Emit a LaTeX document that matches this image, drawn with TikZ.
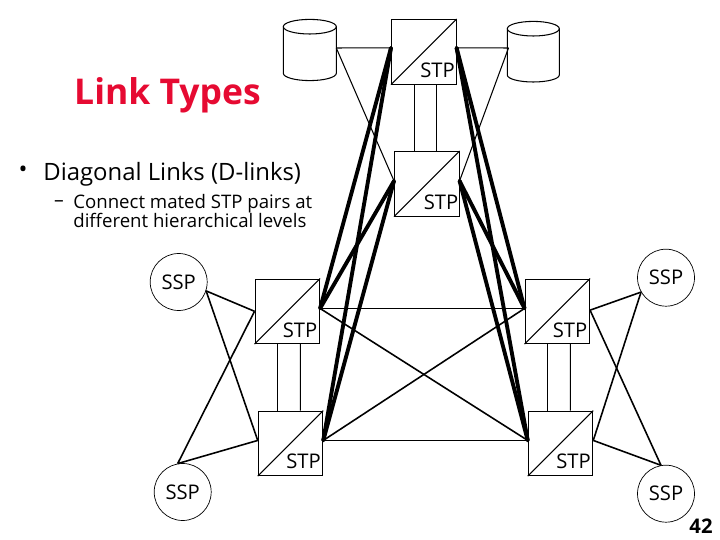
\documentclass[tikz,border=0pt]{standalone}
\usepackage{fontspec}
\setmainfont{Open Sans}
\definecolor{titlered}{RGB}{230,10,50}
\tikzset{
  stpbox/.style={draw,rectangle,minimum size=1.29cm,inner sep=0pt,line width=0.6pt},
  sspnode/.style={draw,circle,minimum size=1.14cm,inner sep=0pt,line width=0.4pt,font=\fontsize{11.5}{13}\selectfont},
  stplabel/.style={inner sep=0pt,font=\fontsize{11.5}{13}\selectfont},
  dbline/.style={line width=0.6pt},
  thinlink/.style={line width=0.6pt},
  midlink/.style={line width=0.9pt},
  dlink/.style={line width=2.2pt,line cap=round}
}
\begin{document}
\begin{tikzpicture}[x=0.02cm,y=-0.02cm]
  \useasboundingbox (0,0) rectangle (720,540);
  % title and text
  \node[inner sep=0pt,text=titlered,font=\bfseries\fontsize{20.2}{22}\selectfont] (title) at (167.5,95.5) {Link Types};
  \node[inner sep=0pt,font=\fontsize{13.5}{16}\selectfont] (bullet) at (23,172) {•};
  \node[inner sep=0pt,anchor=west,font=\fontsize{13.6}{16}\selectfont] (diag) at (43,174) {Diagonal Links (D-links)};
  \node[inner sep=0pt,font=\fontsize{11}{13}\selectfont] (dash) at (59,203.5) {–};
  \node[inner sep=0pt,anchor=west,align=left,font=\fontsize{10.6}{10.8}\selectfont] (connect) at (73,211) {Connect mated STP pairs at\\different hierarchical levels};
  \node[inner sep=0pt,font=\bfseries\fontsize{11.5}{13}\selectfont] (pagenum) at (701,526) {42};
  % signal transfer points
  \node[stpbox] (stpa) at (423.8,51.8) {};
  \node[stpbox] (stpb) at (426.8,183.8) {};
  \node[stpbox] (stpc) at (287.3,311.3) {};
  \node[stpbox] (stpd) at (290.5,443.3) {};
  \node[stpbox] (stpe) at (557.3,311.3) {};
  \node[stpbox] (stpf) at (560.5,443.3) {};
  \draw[thinlink] (stpa.south west) -- (stpa.north east);
  \draw[thinlink] (stpb.south west) -- (stpb.north east);
  \draw[thinlink] (stpc.south west) -- (stpc.north east);
  \draw[thinlink] (stpd.south west) -- (stpd.north east);
  \draw[thinlink] (stpe.south west) -- (stpe.north east);
  \draw[thinlink] (stpf.south west) -- (stpf.north east);
  \node[stplabel] (stpatext) at (437.5,70.7) {STP};
  \node[stplabel] (stpbtext) at (441,202.7) {STP};
  \node[stplabel] (stpctext) at (300,330) {STP};
  \node[stplabel] (stpdtext) at (303.5,461.5) {STP};
  \node[stplabel] (stpetext) at (570,330) {STP};
  \node[stplabel] (stpftext) at (573.5,461.5) {STP};
  % switching points
  \node[sspnode] (sspa) at (178.7,282) {SSP};
  \node[sspnode] (sspb) at (182.7,492) {SSP};
  \node[sspnode] (sspc) at (666,277.7) {SSP};
  \node[sspnode] (sspd) at (666,493.7) {SSP};
  % databases
  \draw[dbline] (309.8,26.7) ellipse [x radius=26.5,y radius=7.3];
  \draw[dbline] (283.3,26.7) -- (283.3,73.3) arc [start angle=180,end angle=0,x radius=26.5,y radius=7.3] -- (336.3,26.7);
  \draw[dbline] (533.3,28.7) ellipse [x radius=26,y radius=7.3];
  \draw[dbline] (507.3,28.7) -- (507.3,75) arc [start angle=180,end angle=0,x radius=26,y radius=7] -- (559.3,28.7);
  \coordinate (dba) at (336.3,48);
  \coordinate (dbb) at (508.5,48);
  % mated pairs
  \draw[thinlink] ([xshift=-9.5*0.02cm]stpa.south) -- ([xshift=-12.5*0.02cm]stpb.north);
  \draw[thinlink] ([xshift=12.5*0.02cm]stpa.south) -- ([xshift=9.5*0.02cm]stpb.north);
  \draw[thinlink] ([xshift=-10*0.02cm]stpc.south) -- ([xshift=-13.2*0.02cm]stpd.north);
  \draw[thinlink] ([xshift=13*0.02cm]stpc.south) -- ([xshift=9.8*0.02cm]stpd.north);
  \draw[thinlink] ([xshift=-10*0.02cm]stpe.south) -- ([xshift=-13.2*0.02cm]stpf.north);
  \draw[thinlink] ([xshift=13*0.02cm]stpe.south) -- ([xshift=9.8*0.02cm]stpf.north);
  % database links
  \draw[thinlink] (dba) -- (stpa.173);
  \draw[thinlink] (stpa.7) -- (dbb);
  \draw[thinlink] (dba) -- (stpb.175);
  \draw[thinlink] (dbb) -- (stpb.5);
  % diagonal links
  \draw[dlink] (stpa.173) -- (stpc.5);
  \draw[dlink] (stpa.173) -- (stpd.5);
  \draw[dlink] (stpb.175) -- (stpc.5);
  \draw[dlink] (stpb.175) -- (stpd.5);
  \draw[dlink] (stpa.7) -- (stpe.175);
  \draw[dlink] (stpa.7) -- (stpf.175);
  \draw[dlink] (stpb.5) -- (stpe.175);
  \draw[dlink] (stpb.5) -- (stpf.175);
  % links between the lower pairs
  \draw[thinlink] (stpc.5) -- (stpe.175);
  \draw[thinlink] (stpd.5) -- (stpf.175);
  \draw[midlink] (stpc.5) -- (stpf.175);
  \draw[midlink] (stpd.5) -- (stpe.175);
  % access links
  \draw[midlink] (sspa.-18) -- (stpc.west);
  \draw[midlink] (sspa.-18) -- (stpd.175);
  \draw[midlink] (sspb.100) -- (stpc.west);
  \draw[midlink] (sspb.100) -- (stpd.175);
  \draw[midlink] (sspc.-150) -- (stpe.2);
  \draw[midlink] (sspc.-150) -- (stpf.5);
  \draw[midlink] (sspd.100) -- (stpe.2);
  \draw[midlink] (sspd.100) -- (stpf.5);
\end{tikzpicture}
\end{document}
